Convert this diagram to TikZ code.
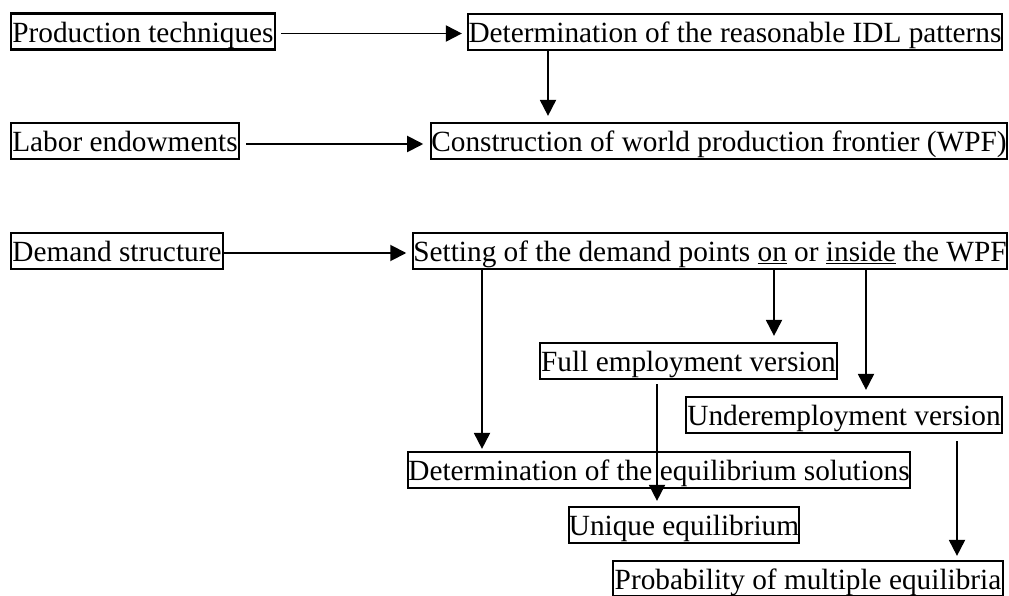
\documentclass[tikz,border=0pt]{standalone}
\usepackage{fontspec}
\setmainfont{Liberation Serif}
\usetikzlibrary{arrows.meta}
\tikzset{
  box/.style={draw, line width=2.2pt, inner sep=0pt, minimum height=36pt,
    text height=27.5pt, text depth=6pt,
    font=\fontsize{29.3pt}{32pt}\selectfont, anchor=center},
  arr/.style={line width=1.9pt, -{Triangle[length=16pt,width=16pt]}}
}
\begin{document}
\begin{tikzpicture}[x=1pt,y=-1pt]
\useasboundingbox (0,0) rectangle (1009,596);
\node[box, minimum width=264pt] (pt) at (143,31.5) {Production techniques};
\node[box, minimum width=534pt] (idl) at (735,32) {Determination of the reasonable IDL patterns};
\node[box, minimum width=228pt] (le) at (125,141) {Labor endowments};
\node[box, minimum width=574pt] (wpf) at (719,141) {Construction of world production frontier (WPF)};
\node[box, minimum width=212pt] (ds) at (117,251) {Demand structure};
\node[box, minimum width=592pt] (set) at (710,251) {Setting of the demand points \underline{on} or \underline{inside} the WPF};
\node[box, minimum width=297pt] (full) at (688.5,361) {Full employment version};
\node[box, minimum width=316pt] (under) at (844,415) {Underemployment version};
\node[box, minimum width=502pt] (deq) at (659,470) {Determination of the equilibrium solutions};
\node[box, minimum width=230pt] (uniq) at (684,525) {Unique equilibrium};
\node[box, minimum width=390pt, minimum height=35pt] (prob) at (808,578.5) {Probability of multiple equilibria};

\coordinate (xa) at (548,0);
\coordinate (xb) at (482,0);
\coordinate (xc) at (774,0);
\coordinate (xd) at (866,0);
\coordinate (xe) at (657,0);
\coordinate (xf) at (957,0);

\draw[arr, shorten <=5pt, shorten >=5pt] ([yshift=-2pt]pt.east) -- ([yshift=-2pt]idl.west |- pt.east);
\draw[arr, shorten <=6pt, shorten >=7pt] ([yshift=-3pt]le.east) -- ([yshift=-3pt]wpf.west);
\draw[arr, shorten >=6pt] ([yshift=-2pt]ds.east) -- ([yshift=-2pt]set.west);
\draw[arr, shorten >=6pt] (idl.south -| xa) -- (wpf.north -| xa);
\draw[arr, shorten >=2pt] (set.south -| xb) -- (deq.north -| xb);
\draw[arr, shorten >=6pt] (set.south -| xc) -- (full.north -| xc);
\draw[arr, shorten >=6pt] (set.south -| xd) -- (under.north -| xd);
\draw[arr, shorten <=4pt, shorten >=5pt] (full.south -| xe) -- (uniq.north -| xe);
\draw[arr, shorten <=7pt, shorten >=4pt] (under.south -| xf) -- (prob.north -| xf);
\end{tikzpicture}
\end{document}
